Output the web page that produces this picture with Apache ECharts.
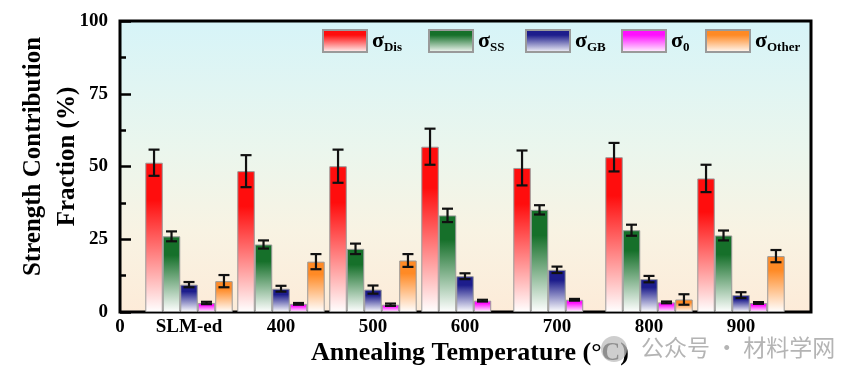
<!DOCTYPE html>
<html>
<head>
<meta charset="utf-8">
<script src="https://cdn.jsdelivr.net/npm/echarts@6/dist/echarts.min.js"></script>
<style>html,body{margin:0;padding:0;background:#fff;}#c{width:865px;height:382px;}</style>
</head>
<body>
<div id="c"></div>
<script>
const categories = ['SLM-ed', '400', '500', '600', '700', '800', '900'];
const seriesNames = ['Dis', 'SS', 'GB', '0', 'Other'];
const disValues = [51.3, 48.4, 50.1, 56.8, 49.5, 53.2, 45.9];
const disErrors = [4.5, 5.5, 5.7, 6.2, 6.0, 4.9, 4.7];
const ssValues = [26.0, 23.2, 21.7, 33.2, 35.1, 28.1, 26.3];
const ssErrors = [1.7, 1.4, 1.8, 2.3, 1.6, 1.9, 1.7];
const gbValues = [9.4, 8.0, 7.7, 12.3, 14.5, 11.3, 5.8];
const gbErrors = [0.9, 1.0, 1.4, 1.0, 1.1, 1.1, 1.0];
const zeroValues = [3.1, 2.8, 2.5, 3.9, 4.2, 3.3, 3.1];
const zeroErrors = [0.4, 0.3, 0.4, 0.3, 0.3, 0.3, 0.3];
const otherValues = [10.6, 17.3, 17.7, null, null, 4.3, 19.2];
const otherErrors = [2.1, 2.6, 2.2, null, null, 1.8, 2.1];

const allValues = [disValues, ssValues, gbValues, zeroValues, otherValues];
const allErrors = [disErrors, ssErrors, gbErrors, zeroErrors, otherErrors];
const topColors = ['#ff0d0d', '#16702a', '#1d1d8c', '#ff10ff', '#ff8a25'];
const legendLeft = [322, 428, 525, 621, 705];
const serif = 'Liberation Serif';
const BAR_FRAC = 0.19;

const chart = echarts.init(document.getElementById('c'), null, {renderer: 'canvas'});

function grad(c) {
  return new echarts.graphic.LinearGradient(0, 0, 0, 1, [
    {offset: 0, color: c},
    {offset: 0.25, color: c},
    {offset: 1, color: '#ffffff'}
  ]);
}

const series = [];
seriesNames.forEach((n, si) => {
  series.push({
    name: n,
    type: 'bar',
    xAxisIndex: 1,
    yAxisIndex: 1,
    barWidth: (BAR_FRAC * 100) + '%',
    barGap: '0%',
    data: allValues[si],
    itemStyle: {color: grad(topColors[si]), borderColor: '#9a9a9a', borderWidth: 1},
    z: 2
  });
});
seriesNames.forEach((n, si) => {
  const data = [];
  allValues[si].forEach((v, i) => { if (v != null) data.push([i, v, allErrors[si][i]]); });
  series.push({
    name: 'err' + n,
    type: 'custom',
    xAxisIndex: 1,
    yAxisIndex: 1,
    z: 5,
    data: data,
    renderItem: function (params, api) {
      const i = api.value(0), v = api.value(1), e = api.value(2);
      const band = api.size([1, 0])[0];
      const bw = band * BAR_FRAC;
      const x = api.coord([i, v])[0] + (si - 2) * bw;
      const yt = api.coord([i, v + e])[1];
      const yb = api.coord([i, v - e])[1];
      const hw = 5.5;
      const st = {stroke: '#111', lineWidth: 2.2};
      return {type: 'group', children: [
        {type: 'line', shape: {x1: x, y1: yt, x2: x, y2: yb}, style: st},
        {type: 'line', shape: {x1: x - hw, y1: yt, x2: x + hw, y2: yt}, style: st},
        {type: 'line', shape: {x1: x - hw, y1: yb, x2: x + hw, y2: yb}, style: st}
      ]};
    }
  });
});

const legends = seriesNames.map((n, si) => ({
  data: [n],
  left: legendLeft[si],
  top: 29,
  padding: 0,
  itemWidth: 44,
  itemHeight: 22,
  icon: 'rect',
  itemGap: 0,
  selectedMode: false,
  formatter: name => '{a|σ}{b|' + name + '}',
  textStyle: {
    rich: {
      a: {fontFamily: serif, fontWeight: 'bold', fontSize: 22, color: '#000', lineHeight: 26},
      b: {fontFamily: serif, fontWeight: 'bold', fontSize: 13, color: '#000', lineHeight: 12, verticalAlign: 'bottom'}
    }
  }
}));

chart.setOption({
  animation: false,
  legend: legends,
  grid: [
    {left: 120, right: 54, top: 21, bottom: 70, outerBoundsMode: 'none', containLabel: false,
     show: true, borderColor: '#000', borderWidth: 3,
     backgroundColor: new echarts.graphic.LinearGradient(0, 0, 0, 1, [
       {offset: 0, color: '#d6f4f8'},
       {offset: 0.45, color: '#ebf6ed'},
       {offset: 0.72, color: '#f8f3e3'},
       {offset: 1, color: '#fdebd8'}
     ])},
    {left: 143, right: 78, top: 21, bottom: 70, outerBoundsMode: 'none', containLabel: false}
  ],
  xAxis: [
    {type: 'value', gridIndex: 0, min: 0, max: 1, interval: 1,
     axisLine: {show: false}, axisTick: {show: false}, splitLine: {show: false},
     axisLabel: {formatter: v => (v === 0 ? '0' : ''), fontFamily: serif, fontWeight: 'bold', fontSize: 19, color: '#000', margin: 6}},
    {type: 'category', gridIndex: 1, data: categories,
     axisLine: {show: false}, axisTick: {show: false},
     axisLabel: {fontFamily: serif, fontWeight: 'bold', fontSize: 19, color: '#000', margin: 6},
     name: 'Annealing Temperature (°C)', nameLocation: 'middle', nameGap: 28, nameMoveOverlap: false,
     nameTextStyle: {fontFamily: serif, fontWeight: 'bold', fontSize: 26, color: '#000', padding: [0, 0, 0, 10]}}
  ],
  yAxis: [
    {type: 'value', gridIndex: 0, min: 0, max: 100, interval: 25,
     axisLine: {show: false}, splitLine: {show: false},
     axisTick: {show: true, inside: true, length: 11, lineStyle: {color: '#000', width: 2.5}},
     minorTick: {show: true, splitNumber: 2, length: 6, lineStyle: {color: '#000', width: 2.5}},
     axisLabel: {fontFamily: serif, fontWeight: 'bold', fontSize: 19, color: '#000', margin: 12},
     name: 'Strength Contribution\nFraction (%)', nameLocation: 'middle', nameGap: 35, nameMoveOverlap: false,
     nameTextStyle: {fontFamily: serif, fontWeight: 'bold', fontSize: 25, lineHeight: 34, color: '#000', padding: [0, 0, 0, 20]}},
    {type: 'value', gridIndex: 1, min: 0, max: 100, show: false}
  ],
  series: series,
  graphic: [
    {type: 'circle', shape: {cx: 614, cy: 349, r: 13}, style: {fill: 'rgba(190,190,190,0.75)'}, z: 10},
    {type: 'text', left: 641, top: 336, style: {text: '公众号 · 材料学网', font: '23px "Noto Sans CJK SC"', fill: '#b4b4b4'}, z: 10}
  ]
});
</script>
</body>
</html>
